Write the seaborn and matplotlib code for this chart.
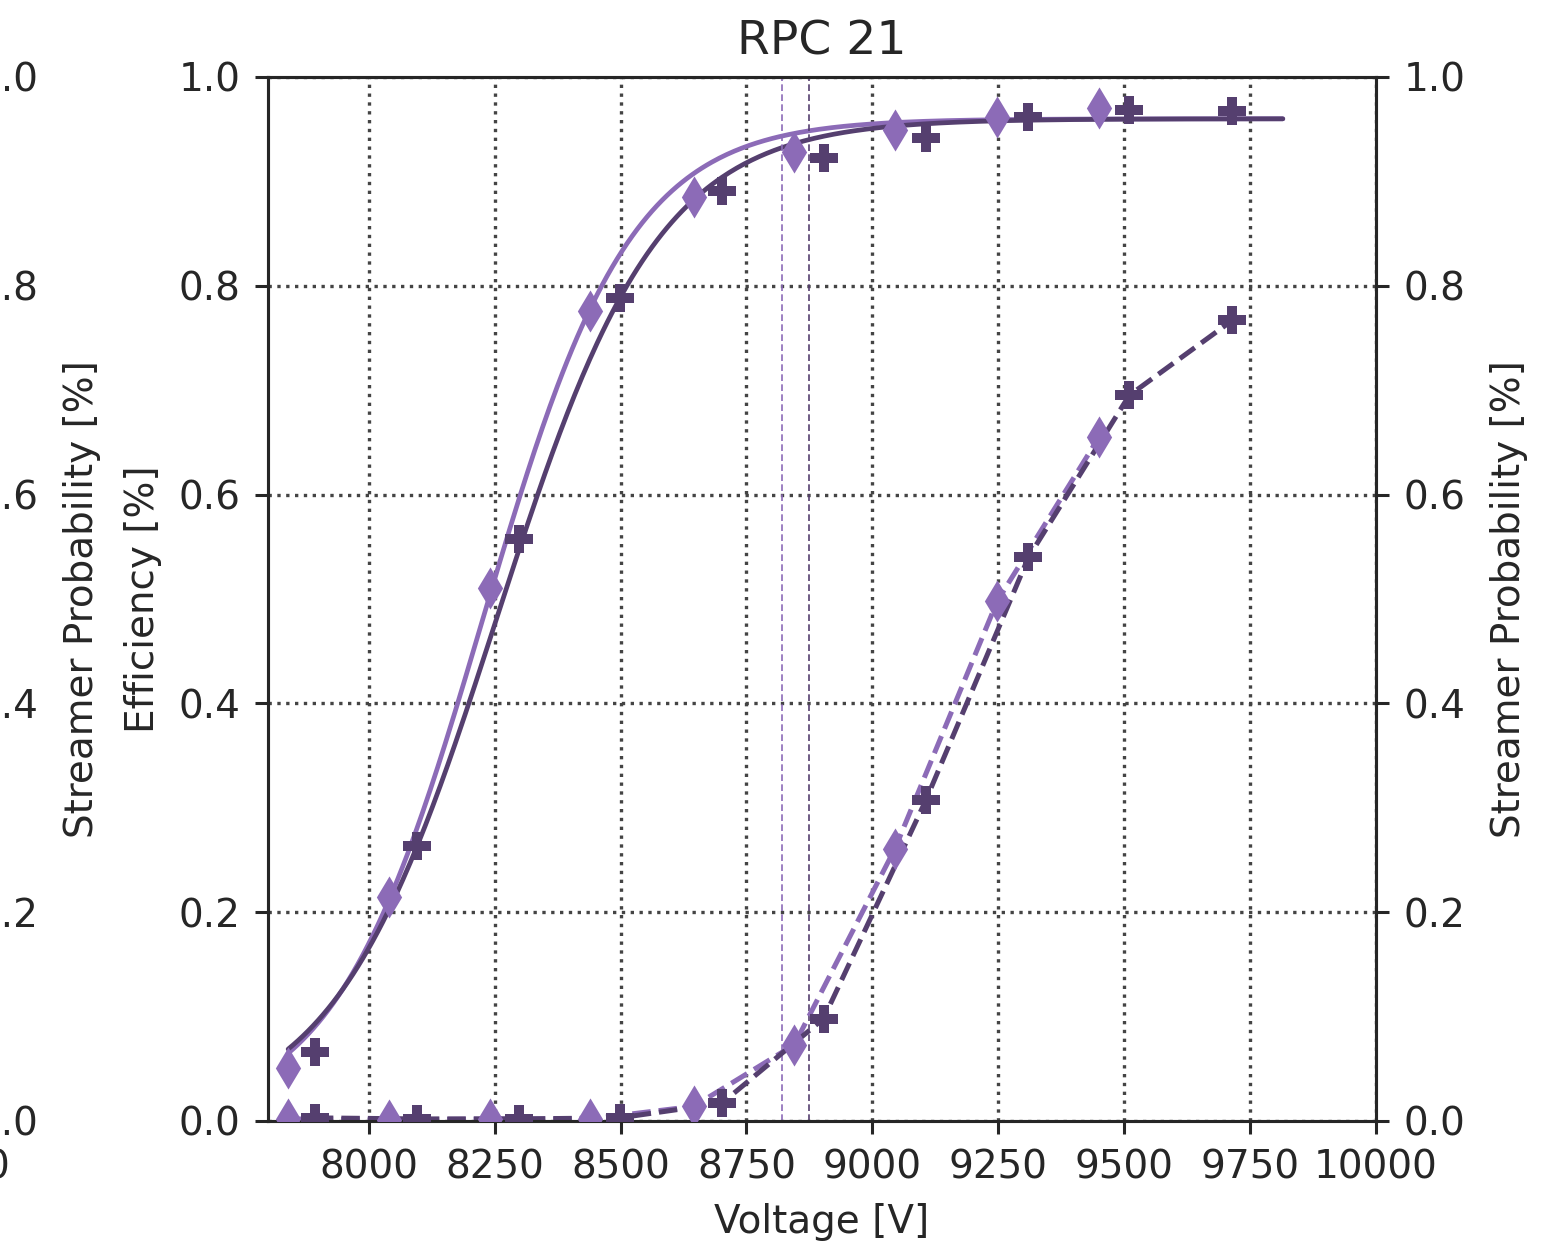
import numpy as np
import pandas as pd
import matplotlib
matplotlib.use("Agg")
import matplotlib.pyplot as plt
import seaborn as sns

# ---- measured data -------------------------------------------------------
# light series (diamonds)
v_a = [7840, 8040, 8240, 8440, 8645, 8845, 9045, 9248, 9450]
eff_a = [0.051, 0.215, 0.511, 0.776, 0.885, 0.928, 0.949, 0.962, 0.970]
str_a = [0.002, 0.001, 0.002, 0.002, 0.014, 0.073, 0.261, 0.498, 0.655]

# dark series (plus)
v_b = [7893, 8096, 8298, 8498, 8701, 8903, 9106, 9310, 9510, 9715]
eff_b = [0.066, 0.263, 0.557, 0.788, 0.891, 0.922, 0.942, 0.962, 0.968, 0.967]
str_b = [0.003, 0.002, 0.002, 0.003, 0.017, 0.098, 0.307, 0.540, 0.695, 0.767]

# sigmoid fit parameters: plateau, slope [1/V], V50 [V]
fit_a = (0.960, 0.0068, 8226)
fit_b = (0.960, 0.0062, 8253)
fit_range = (7840, 9815)

# working points [V]
wp_a = 8820
wp_b = 8875

col_a = "#8c6bb7"
col_b = "#553f6f"
text_col = "#262626"

x_ticks = [8000, 8250, 8500, 8750, 9000, 9250, 9500, 9750, 10000]
y_ticks = [0.0, 0.2, 0.4, 0.6, 0.8, 1.0]


def sigmoid(v, emax, lam, v50):
    return emax / (1.0 + np.exp(-lam * (v - v50)))


sns.set_theme(style="ticks")
plt.rcParams.update({
    "font.family": ["DejaVu Sans"],
    "text.color": text_col,
    "axes.labelcolor": text_col,
    "axes.edgecolor": text_col,
    "xtick.color": text_col,
    "ytick.color": text_col,
    "axes.linewidth": 1.1,
    "xtick.major.width": 1.1,
    "ytick.major.width": 1.1,
    "xtick.major.size": 4.8,
    "ytick.major.size": 4.8,
    "xtick.major.pad": 5,
    "ytick.major.pad": 5,
    "xtick.labelsize": 14,
    "ytick.labelsize": 14,
    "axes.labelsize": 14,
    "axes.titlesize": 17,
})

DPI = 200
fig = plt.figure(figsize=(1563 / DPI, 1245 / DPI), dpi=DPI)

ax_pos = [268 / 1563, 1 - 1121 / 1245, 1108 / 1563, 1044 / 1245]


def style_axes(ax, tw):
    ax.set_xlim(7800, 10000)
    ax.set_ylim(0, 1)
    ax.set_xticks(x_ticks)
    ax.set_yticks(y_ticks)
    ax.set_yticklabels([f"{t:.1f}" for t in y_ticks])
    ax.grid(True, linestyle=":", color="#444444", linewidth=1.2)
    ax.set_xlabel("Voltage [V]", labelpad=6)
    ax.set_ylabel("Efficiency [%]", labelpad=6)
    tw.set_ylim(0, 1)
    tw.set_yticks(y_ticks)
    tw.set_yticklabels([f"{t:.1f}" for t in y_ticks])
    tw.set_ylabel("Streamer Probability [%]", labelpad=9)
    tw.grid(False)


# neighbouring panel on the left (only its right-hand axis reaches the canvas)
left_pos = [(-51 - 1108) / 1563, ax_pos[1], ax_pos[2], ax_pos[3]]
ax_prev = fig.add_axes(left_pos)
tw_prev = ax_prev.twinx()
style_axes(ax_prev, tw_prev)

# main panel
ax = fig.add_axes(ax_pos)
tw = ax.twinx()
style_axes(ax, tw)
ax.set_title("RPC 21", pad=8)

v_fit = np.linspace(*fit_range, 400)
fits = pd.DataFrame({
    "V": np.concatenate([v_fit, v_fit]),
    "eff": np.concatenate([sigmoid(v_fit, *fit_a), sigmoid(v_fit, *fit_b)]),
    "series": ["a"] * len(v_fit) + ["b"] * len(v_fit),
})
pal = {"a": col_a, "b": col_b}

sns.lineplot(data=fits, x="V", y="eff", hue="series", palette=pal,
             linewidth=1.7, legend=False, ax=ax, estimator=None, sort=False)

ax.axvline(wp_a, color=col_a, linestyle="--", linewidth=0.6, dashes=(4, 2))
ax.axvline(wp_b, color=col_b, linestyle="--", linewidth=0.6, dashes=(4, 2))

sns.scatterplot(x=v_a, y=eff_a, marker="d", s=115, color=col_a,
                linewidth=0, ax=ax, zorder=3)
sns.scatterplot(x=v_b, y=eff_b, marker="P", s=105, color=col_b,
                linewidth=0, ax=ax, zorder=3)

# streamer probability on the secondary axis
sns.lineplot(x=v_a, y=str_a, color=col_a, linestyle="--", linewidth=1.8,
             ax=tw, estimator=None, sort=False)
sns.lineplot(x=v_b, y=str_b, color=col_b, linestyle="--", linewidth=1.8,
             ax=tw, estimator=None, sort=False)
sns.scatterplot(x=v_a, y=str_a, marker="d", s=115, color=col_a,
                linewidth=0, ax=tw, zorder=3)
sns.scatterplot(x=v_b, y=str_b, marker="P", s=105, color=col_b,
                linewidth=0, ax=tw, zorder=3)

ax.set_xlim(7800, 10000)
ax.set_ylim(0, 1)
tw.set_ylim(0, 1)

fig.savefig("out.png", dpi=DPI)
